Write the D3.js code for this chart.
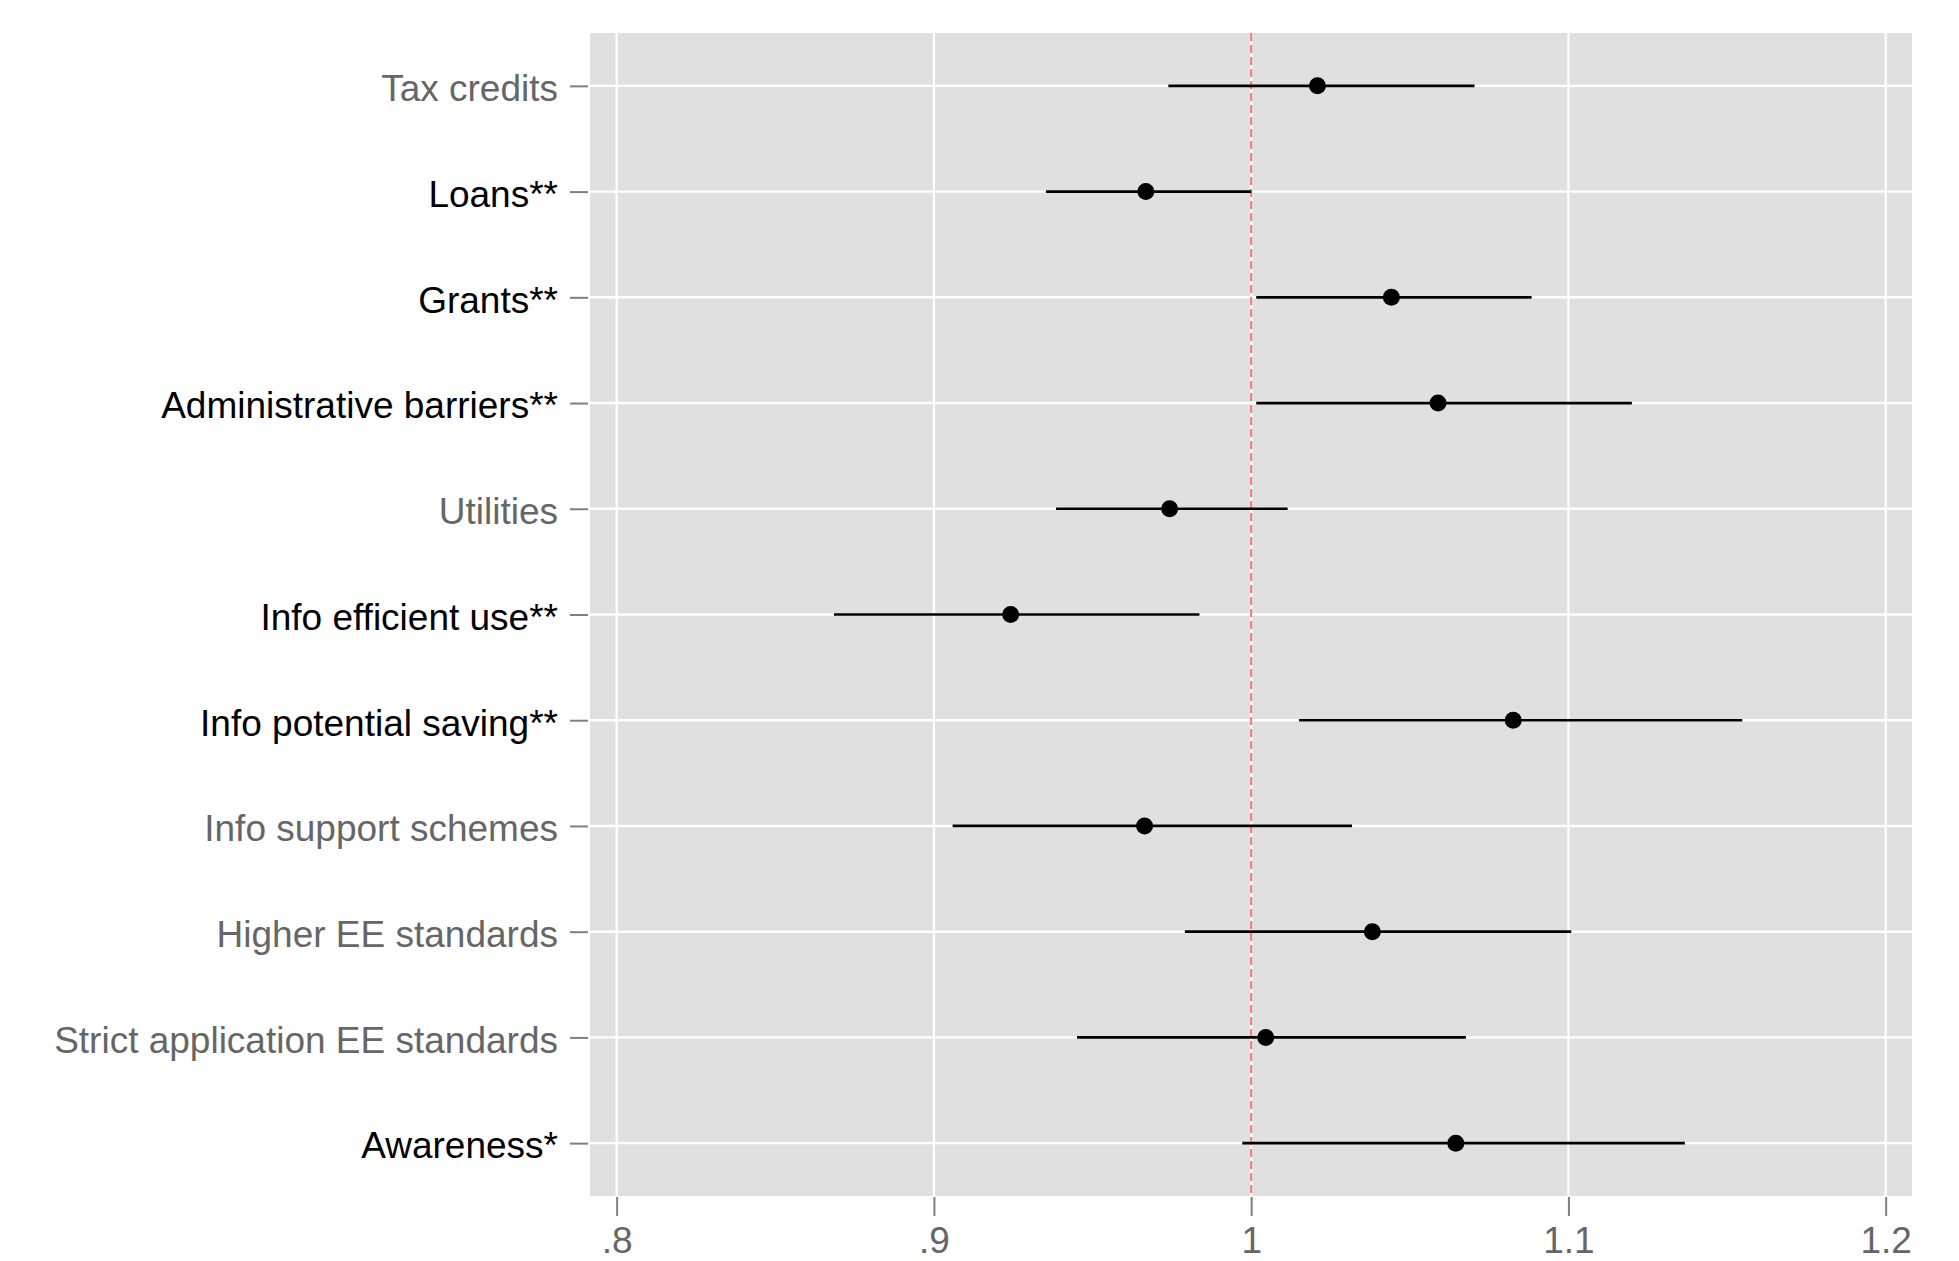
<!DOCTYPE html>
<html>
<head>
<meta charset="utf-8">
<script src="https://cdn.jsdelivr.net/npm/d3@7"></script>
<style>
  body { margin: 0; background: #fff; }
  svg text { font-family: "Liberation Sans", Arial, Helvetica, sans-serif; }
</style>
</head>
<body>
<div id="chart"></div>
<script>
// odds ratios with confidence intervals (top row first)
const labels = [
  'Tax credits', 'Loans**', 'Grants**', 'Administrative barriers**', 'Utilities',
  'Info efficient use**', 'Info potential saving**', 'Info support schemes',
  'Higher EE standards', 'Strict application EE standards', 'Awareness*'
];
const estimates = [1.0209, 0.9668, 1.0442, 1.0589, 0.9743, 0.9242, 1.0826, 0.9664, 1.0382, 1.0046, 1.0645];
const lower     = [0.9739, 0.9353, 1.0016, 1.0016, 0.9385, 0.8685, 1.0151, 0.9059, 0.9791, 0.9451, 0.9972];
const upper     = [1.0704, 1.0000, 1.0884, 1.1200, 1.0115, 0.9837, 1.1548, 1.0318, 1.1009, 1.0677, 1.1367];
const significant = [false, true, true, true, false, true, true, false, false, false, true];
const xTicks = [0.8, 0.9, 1.0, 1.1, 1.2];
const xTickLabels = ['.8', '.9', '1', '1.1', '1.2'];
const refValue = 1;

const W = 1959, H = 1261;
const panel = { left: 590, right: 1912, top: 33, bottom: 1196 };

const svg = d3.select('#chart').append('svg')
  .attr('width', W).attr('height', H)
  .attr('viewBox', `0 0 ${W} ${H}`);

const x = d3.scaleLinear()
  .domain([0.7916, 1.2083])
  .range([panel.left, panel.right]);

const y = d3.scalePoint()
  .domain(labels)
  .range([panel.top, panel.bottom])
  .padding(0.5);

// panel background
svg.append('rect')
  .attr('x', panel.left).attr('y', panel.top)
  .attr('width', panel.right - panel.left)
  .attr('height', panel.bottom - panel.top)
  .attr('fill', '#e0e0e0');

// grid lines
const gGrid = svg.append('g');
gGrid.selectAll('line.vx')
  .data(xTicks)
  .join('line')
  .attr('class', 'vx')
  .attr('x1', d => x(d)).attr('x2', d => x(d))
  .attr('y1', panel.top).attr('y2', panel.bottom)
  .attr('stroke', '#fff').attr('stroke-width', 2.2);
gGrid.selectAll('line.hy')
  .data(labels)
  .join('line')
  .attr('class', 'hy')
  .attr('x1', panel.left).attr('x2', panel.right)
  .attr('y1', d => y(d)).attr('y2', d => y(d))
  .attr('stroke', '#fff').attr('stroke-width', 2.4);

// reference line at 1
svg.append('line')
  .attr('x1', x(refValue)).attr('x2', x(refValue))
  .attr('y1', panel.top).attr('y2', panel.bottom)
  .attr('stroke', '#f8766d').attr('stroke-width', 2)
  .attr('stroke-dasharray', '8,4');

// error bars + points
const rows = labels.map((l, i) => ({ label: l, est: estimates[i], lo: lower[i], hi: upper[i] }));
const gMarks = svg.append('g');
gMarks.selectAll('line.ci')
  .data(rows)
  .join('line')
  .attr('class', 'ci')
  .attr('x1', d => x(d.lo)).attr('x2', d => x(d.hi))
  .attr('y1', d => y(d.label)).attr('y2', d => y(d.label))
  .attr('stroke', '#000').attr('stroke-width', 2.7);
gMarks.selectAll('circle')
  .data(rows)
  .join('circle')
  .attr('cx', d => x(d.est))
  .attr('cy', d => y(d.label))
  .attr('r', 8.5)
  .attr('fill', '#000');

// x axis
const xAxis = svg.append('g')
  .attr('transform', `translate(0, ${panel.bottom + 1})`)
  .call(d3.axisBottom(x)
    .tickValues(xTicks)
    .tickFormat((d, i) => xTickLabels[i])
    .tickSize(19)
    .tickPadding(10));
xAxis.select('.domain').remove();
xAxis.selectAll('line').attr('stroke', '#7f7f7f').attr('stroke-width', 2);
xAxis.selectAll('text')
  .attr('font-size', 37)
  .attr('fill', '#666')
  .attr('dy', '0.72em');

// y axis
const yAxis = svg.append('g')
  .attr('transform', `translate(${panel.left - 2}, 0)`)
  .call(d3.axisLeft(y).tickSize(18).tickPadding(12));
yAxis.select('.domain').remove();
yAxis.selectAll('line').attr('stroke', '#7f7f7f').attr('stroke-width', 2);
yAxis.selectAll('text')
  .attr('font-size', 37)
  .attr('dy', '0.4em')
  .attr('fill', d => significant[labels.indexOf(d)] ? '#000' : '#666');
</script>
</body>
</html>
